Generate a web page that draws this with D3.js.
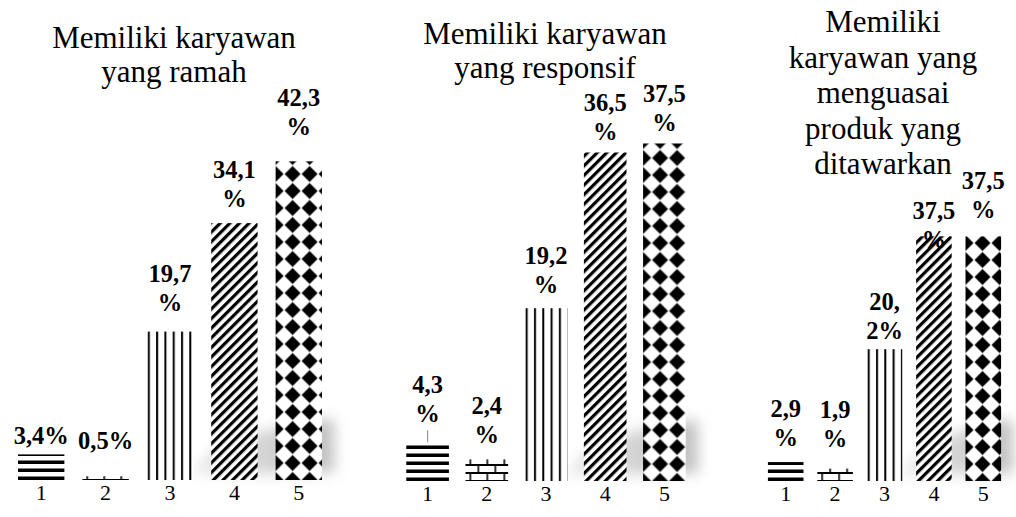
<!DOCTYPE html>
<html>
<head>
<meta charset="utf-8">
<script src="https://cdn.jsdelivr.net/npm/d3@7"></script>
<style>
  html, body { margin: 0; padding: 0; background: #fff; }
  svg { display: block; }
</style>
</head>
<body>
<div id="chart"></div>
<script>
// categories on the x axis (same for all three panels)
const categories = ["1", "2", "3", "4", "5"];

// panel 1
const titleRamah = ["Memiliki karyawan", "yang ramah"];
const valuesRamah = [3.4, 0.5, 19.7, 34.1, 42.3];
const labelsRamah = ["3,4%", "0,5%", "19,7|%", "34,1|%", "42,3|%"];

// panel 2
const titleResponsif = ["Memiliki karyawan", "yang responsif"];
const valuesResponsif = [4.3, 2.4, 19.2, 36.5, 37.5];
const labelsResponsif = ["4,3|%", "2,4|%", "19,2|%", "36,5|%", "37,5|%"];

// panel 3
const titleProduk = ["Memiliki", "karyawan yang", "menguasai", "produk yang", "ditawarkan"];
const valuesProduk = [2.9, 1.9, 20.2, 37.5, 37.5];
const labelsProduk = ["2,9|%", "1,9|%", "20,|2%", "37,5|%", "37,5|%"];

const serif = "'Times New Roman', 'Liberation Serif', serif";
const W = 1016, H = 517;

// layout of each panel (plot box, title placement, label nudges)
const panels = [
    { title: titleRamah, values: valuesRamah, labels: labelsRamah,
      x0: 9, x1: 331, base: 480, top: 141, max: 45,
      titleX: 174, titleY: 48, titleStep: 34,
      nudge: [6, -11, -5, 0, -10], leader: [] },
    { title: titleResponsif, values: valuesResponsif, labels: labelsResponsif,
      x0: 398, x1: 694, base: 481, top: 121, max: 40,
      titleX: 545, titleY: 44, titleStep: 34,
      nudge: [-4, 0, 1, 3, 3], leader: [0] },
    { title: titleProduk, values: valuesProduk, labels: labelsProduk,
      x0: 761, x1: 1008, base: 481, top: 220, max: 40,
      titleX: 883, titleY: 32, titleStep: 35.5,
      nudge: [0, -6, 6, 28, -2], leader: [] }
];

const svg = d3.select("#chart")
    .append("svg")
    .attr("width", W)
    .attr("height", H);

const defs = svg.append("defs");

// soft grey shadow behind the tall bars
defs.append("filter")
    .attr("id", "blur")
    .attr("x", "-30%").attr("y", "-30%")
    .attr("width", "160%").attr("height", "160%")
    .append("feGaussianBlur")
    .attr("stdDeviation", 7);

const grad = defs.append("linearGradient")
    .attr("id", "shade")
    .attr("x1", "0").attr("x2", "1").attr("y1", "0").attr("y2", "0");
grad.append("stop").attr("offset", "0%").attr("stop-color", "#d4d4d4").attr("stop-opacity", 0.5);
grad.append("stop").attr("offset", "60%").attr("stop-color", "#c4c4c4").attr("stop-opacity", 0.8);
grad.append("stop").attr("offset", "100%").attr("stop-color", "#b8b8b8").attr("stop-opacity", 0.9);

// fill patterns, one per category
// 1: wide horizontal lines
const p0 = defs.append("pattern").attr("id", "pat0")
    .attr("patternUnits", "userSpaceOnUse").attr("width", 10).attr("height", 8);
p0.append("rect").attr("width", 10).attr("height", 8).attr("fill", "#fff");
p0.append("rect").attr("y", 4.5).attr("width", 10).attr("height", 3.5).attr("fill", "#000");

// 2: bricks
const p1 = defs.append("pattern").attr("id", "pat1")
    .attr("patternUnits", "userSpaceOnUse").attr("width", 17).attr("height", 16);
p1.append("rect").attr("width", 17).attr("height", 16).attr("fill", "#fff");
p1.append("rect").attr("y", 0).attr("width", 17).attr("height", 1).attr("fill", "#000");
p1.append("rect").attr("y", 7).attr("width", 17).attr("height", 2).attr("fill", "#000");
p1.append("rect").attr("y", 15).attr("width", 17).attr("height", 1).attr("fill", "#000");
p1.append("rect").attr("x", 12).attr("y", 0).attr("width", 1.6).attr("height", 8).attr("fill", "#000");
p1.append("rect").attr("x", 4).attr("y", 8).attr("width", 1.6).attr("height", 8).attr("fill", "#000");

// 3: vertical lines
const p2 = defs.append("pattern").attr("id", "pat2")
    .attr("patternUnits", "userSpaceOnUse").attr("width", 8.3).attr("height", 10);
p2.append("rect").attr("width", 8.3).attr("height", 10).attr("fill", "#fff");
p2.append("rect").attr("x", 1).attr("width", 2).attr("height", 10).attr("fill", "#000");

// 4: wide upward diagonal
const p3 = defs.append("pattern").attr("id", "pat3")
    .attr("patternUnits", "userSpaceOnUse").attr("width", 10).attr("height", 6.8)
    .attr("patternTransform", "rotate(-45)");
p3.append("rect").attr("width", 10).attr("height", 6.8).attr("fill", "#fff");
p3.append("rect").attr("width", 10).attr("height", 3.2).attr("fill", "#000");

// 5: diamonds
const p4 = defs.append("pattern").attr("id", "pat4")
    .attr("patternUnits", "userSpaceOnUse")
    .attr("x", -8.5).attr("y", -8.5)
    .attr("width", 17).attr("height", 17);
p4.append("rect").attr("width", 17).attr("height", 17).attr("fill", "#fff");
p4.append("path")
    .attr("d", "M8.5,0.5 L16.5,8.5 L8.5,16.5 L0.5,8.5 Z")
    .attr("fill", "#000");

panels.forEach((p, pi) => {
    const x = d3.scaleBand()
        .domain(categories)
        .range([p.x0, p.x1])
        .paddingInner(0.28)
        .paddingOuter(0.14);

    const y = d3.scaleLinear()
        .domain([0, p.max])
        .range([p.base, p.top]);

    const bw = x.bandwidth();
    const g = svg.append("g").attr("class", "panel panel-" + pi);

    // shadow wedge from bar 3 to the right of bar 5
    const L = x(categories[2]) + bw;
    const R = x(categories[4]) + bw + 12;
    g.append("path")
        .attr("d", `M${L - 4},${p.base - 6} L${L + 30},${p.base - 40} L${R - 20},${p.base - 60} L${R},${p.base - 60} L${R},${p.base - 8} Z`)
        .attr("fill", "url(#shade)")
        .attr("filter", "url(#blur)");

    // bars
    const bars = g.selectAll(".bar")
        .data(p.values)
        .enter()
        .append("g")
        .attr("class", "bar")
        .attr("transform", (d, i) => `translate(${x(categories[i])},${p.base})`);

    bars.append("rect")
        .attr("x", 0)
        .attr("y", d => y(d) - p.base)
        .attr("width", bw)
        .attr("height", d => p.base - y(d))
        .attr("fill", (d, i) => `url(#pat${i})`);

    // leader lines
    p.leader.forEach(i => {
        const cx = x(categories[i]) + bw / 2;
        g.append("line")
            .attr("x1", cx).attr("x2", cx)
            .attr("y1", y(p.values[i]))
            .attr("y2", y(p.values[i]) - 12)
            .attr("stroke", "#999")
            .attr("stroke-width", 1.2);
    });

    // data labels
    p.labels.forEach((lab, i) => {
        const lines = lab.split("|");
        const cx = x(categories[i]) + bw / 2;
        const yb = y(p.values[i]) - 16 + p.nudge[i];
        lines.forEach((t, k) => {
            g.append("text")
                .attr("x", cx)
                .attr("y", yb - (lines.length - 1 - k) * 29)
                .attr("text-anchor", "middle")
                .style("font-family", serif)
                .style("font-weight", "bold")
                .style("font-size", "24.5px")
                .attr("fill", "#000")
                .text(t);
        });
    });

    // title
    g.selectAll(".title")
        .data(p.title)
        .enter()
        .append("text")
        .attr("class", "title")
        .attr("x", p.titleX)
        .attr("y", (d, i) => p.titleY + i * p.titleStep)
        .attr("text-anchor", "middle")
        .style("font-family", serif)
        .style("font-size", "31px")
        .attr("fill", "#000")
        .text(d => d);

    // category axis
    g.append("g")
        .attr("class", "x-axis")
        .attr("transform", `translate(0,${p.base})`)
        .call(d3.axisBottom(x).tickSize(0).tickPadding(4))
        .call(a => a.select(".domain").remove())
        .selectAll("text")
        .style("font-family", serif)
        .style("font-size", "22px")
        .attr("fill", "#000");
});
</script>
</body>
</html>
